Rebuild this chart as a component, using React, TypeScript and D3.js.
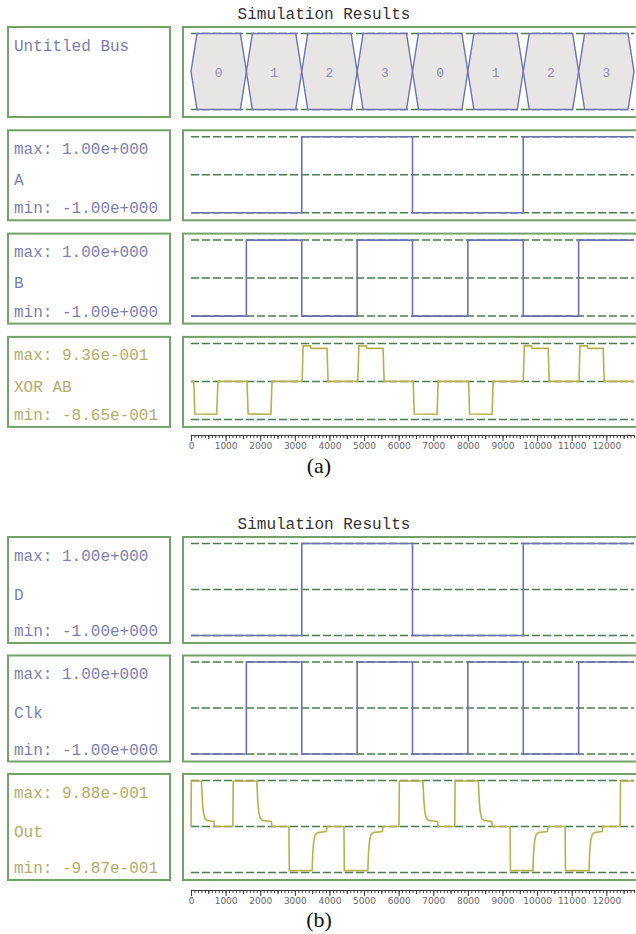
import * as d3 from "d3";
import { useEffect, useRef } from "react";

const WIDTH = 636;
const HEIGHT = 934;
const T_END = 12800;

// bus segments
const busEdges = [0, 1600, 3200, 4800, 6400, 8000, 9600, 11200, 12800];
const busValues = ["0", "1", "2", "3", "0", "1", "2", "3"];

// [time, level] - level holds until the next entry
const aSteps: [number, number][] = [[0, -1], [3200, 1], [6400, -1], [9600, 1]];
const bSteps: [number, number][] = [
  [0, -1], [1600, 1], [3200, -1], [4800, 1], [6400, -1], [8000, 1], [9600, -1], [11200, 1],
];
const dSteps: [number, number][] = [[0, -1], [3200, 1], [6400, -1], [9600, 1]];
const clkSteps: [number, number][] = [
  [0, -1], [1600, 1], [3200, -1], [4800, 1], [6400, -1], [8000, 1], [9600, -1], [11200, 1],
];

// analog traces, [time, value]
const xorPoints: [number, number][] = [
  [0, 0], [80, 0], [110, -0.86], [740, -0.865], [780, 0],
  [1620, 0], [1650, -0.86], [2310, -0.865], [2340, 0],
  [3210, 0], [3240, 0.936], [3450, 0.936], [3470, 0.87], [3930, 0.87], [3960, 0],
  [4820, 0], [4850, 0.936], [5060, 0.936], [5080, 0.87], [5550, 0.87], [5580, 0],
  [6420, 0], [6450, -0.86], [7110, -0.865], [7140, 0],
  [8020, 0], [8050, -0.86], [8700, -0.865], [8730, 0],
  [9600, 0], [9630, 0.936], [9840, 0.936], [9860, 0.87], [10320, 0.87], [10350, 0],
  [11210, 0], [11240, 0.936], [11450, 0.936], [11470, 0.87], [11910, 0.87], [11940, 0],
  [12800, 0],
];

const outPoints: [number, number][] = [
  [0, 0], [10, 0.99], [300, 0.99], [330, 0.55], [360, 0.3], [400, 0.18], [470, 0.13], [660, 0.11], [680, 0],
  [1210, 0], [1220, 0.99], [1900, 0.99], [1930, 0.55], [1960, 0.3], [2000, 0.18], [2070, 0.13], [2320, 0.11], [2340, 0],
  [2830, 0], [2840, -0.96], [3500, -0.96], [3520, -0.55], [3550, -0.3], [3590, -0.18], [3660, -0.13], [3910, -0.11], [3930, 0],
  [4420, 0], [4430, -0.96], [5110, -0.96], [5130, -0.55], [5160, -0.3], [5200, -0.18], [5270, -0.13], [5530, -0.11], [5550, 0],
  [6010, 0], [6020, 0.99], [6700, 0.99], [6730, 0.55], [6760, 0.3], [6800, 0.18], [6870, 0.13], [7120, 0.11], [7140, 0],
  [7620, 0], [7630, 0.99], [8300, 0.99], [8330, 0.55], [8360, 0.3], [8400, 0.18], [8470, 0.13], [8690, 0.11], [8710, 0],
  [9220, 0], [9230, -0.96], [9880, -0.96], [9900, -0.55], [9930, -0.3], [9970, -0.18], [10040, -0.13], [10300, -0.11], [10320, 0],
  [10810, 0], [10820, -0.96], [11500, -0.96], [11520, -0.55], [11550, -0.3], [11590, -0.18], [11660, -0.13], [11880, -0.11], [11900, 0],
  [12400, 0], [12410, 0.99], [12800, 0.99],
];

const timeTicks = [0, 1000, 2000, 3000, 4000, 5000, 6000, 7000, 8000, 9000, 10000, 11000, 12000];

const BORDER = "#72a268";
const DASH = "#4a7d4c";
const BLUE = "#6c71b4";
const BLUE_TEXT = "#7c7fae";
const OLIVE = "#b8b04c";
const OLIVE_TEXT = "#b3ac68";
const HEX_FILL = "#e8e5e5";
const MONO = "'Liberation Mono', 'DejaVu Sans Mono', monospace";

const x = d3.scaleLinear().domain([0, T_END]).range([191, 634]);

const panelA = {
  titleY: 19,
  rowStart: 27,
  pitch: 103.3,
  rowH: 90,
  axisY: 435,
  caption: "(a)",
  captionY: 473,
  rows: [
    { kind: "bus", name: "Untitled Bus" },
    { kind: "step", name: "A", max: "1.00e+000", min: "-1.00e+000", data: aSteps },
    { kind: "step", name: "B", max: "1.00e+000", min: "-1.00e+000", data: bSteps },
    { kind: "analog", name: "XOR AB", max: "9.36e-001", min: "-8.65e-001", data: xorPoints },
  ],
};

const panelB = {
  titleY: 529,
  rowStart: 537,
  pitch: 118.5,
  rowH: 106,
  axisY: 890,
  caption: "(b)",
  captionY: 927,
  rows: [
    { kind: "step", name: "D", max: "1.00e+000", min: "-1.00e+000", data: dSteps },
    { kind: "step", name: "Clk", max: "1.00e+000", min: "-1.00e+000", data: clkSteps },
    { kind: "analog", name: "Out", max: "9.88e-001", min: "-9.87e-001", data: outPoints },
  ],
};

const TimeAxis = ({ y }: { y: number }) => {
  const ref = useRef<SVGGElement>(null);

  useEffect(() => {
    const g = d3.select(ref.current);
    g.selectAll("*").remove();

    const minor = d3
      .axisBottom(x)
      .tickValues(d3.range(0, T_END + 1, 100))
      .tickSize(3)
      .tickSizeOuter(0)
      .tickFormat(() => "");
    const half = d3
      .axisBottom(x)
      .tickValues(d3.range(500, T_END, 1000))
      .tickSize(4)
      .tickFormat(() => "");
    const major = d3
      .axisBottom(x)
      .tickValues(timeTicks)
      .tickSize(6)
      .tickPadding(2)
      .tickFormat(d3.format("d"));

    g.append("g").call(minor);
    g.append("g").call(half).call((s) => s.select(".domain").remove());
    g.append("g").call(major).call((s) => s.select(".domain").remove());

    g.selectAll("line, path").attr("stroke", "#3a3a3a");
    g.selectAll("text")
      .attr("fill", "#666")
      .style("font-family", "'DejaVu Sans', sans-serif")
      .style("font-size", "9px");
  }, [y]);

  return <g ref={ref} transform={`translate(0,${y})`} />;
};

const Row = ({ row, top, h }: any) => {
  const yTop = top + 6.5;
  const yBot = top + h - 7.5;
  const yMid = (yTop + yBot) / 2;
  const y = d3.scaleLinear().domain([-1, 1]).range([yBot, yTop]);
  const [x0, x1] = x.range();
  const isAnalog = row.kind === "analog";
  const textColor = isAnalog ? OLIVE_TEXT : BLUE_TEXT;

  let trace: any = null;
  if (row.kind === "step") {
    const pts = [...row.data, [T_END, row.data[row.data.length - 1][1]]];
    const line = d3
      .line<[number, number]>()
      .x((d) => x(d[0]))
      .y((d) => y(d[1]))
      .curve(d3.curveStepAfter);
    trace = <path d={line(pts) || ""} fill="none" stroke={BLUE} strokeWidth={1.6} />;
  } else if (isAnalog) {
    const line = d3
      .line<[number, number]>()
      .x((d) => x(d[0]))
      .y((d) => y(d[1]));
    trace = <path d={line(row.data) || ""} fill="none" stroke={OLIVE} strokeWidth={1.6} />;
  }

  const dashYs = row.kind === "bus" ? [yTop, yBot] : [yTop, yMid, yBot];
  const slant = 6;

  return (
    <g>
      <rect x={8} y={top} width={162} height={h} fill="#fff" stroke={BORDER} strokeWidth={2} />
      <rect x={183} y={top} width={480} height={h} fill="#fff" stroke={BORDER} strokeWidth={2} />

      {row.kind === "bus" ? (
        <text x={14} y={top + 23.5} fontFamily={MONO} fontSize={16} fill={BLUE_TEXT}>
          {row.name}
        </text>
      ) : (
        <g fontFamily={MONO} fontSize={16} fill={textColor}>
          <text x={14} y={top + 23.5}>{`max: ${row.max}`}</text>
          <text x={14} y={(top + 23.5 + top + h - 7) / 2 + 1.5}>{row.name}</text>
          <text x={14} y={top + h - 7}>{`min: ${row.min}`}</text>
        </g>
      )}

      {dashYs.map((dy: number, i: number) => (
        <line
          key={i}
          x1={x0}
          x2={x1}
          y1={dy}
          y2={dy}
          stroke={DASH}
          strokeWidth={1.5}
          strokeDasharray="8,3"
        />
      ))}

      {row.kind === "bus" &&
        busValues.map((v, i) => {
          const a = x(busEdges[i]);
          const b = x(busEdges[i + 1]);
          const pts = [
            [a, yMid],
            [a + slant, yTop],
            [b - slant, yTop],
            [b, yMid],
            [b - slant, yBot],
            [a + slant, yBot],
          ];
          return (
            <g key={i}>
              <polygon
                points={pts.map((p) => p.join(",")).join(" ")}
                fill={HEX_FILL}
                stroke={BLUE}
                strokeWidth={1.4}
              />
              <text
                x={(a + b) / 2}
                y={yMid + 5}
                textAnchor="middle"
                fontFamily={MONO}
                fontSize={13}
                fill="#8b8db0"
              >
                {v}
              </text>
            </g>
          );
        })}

      {trace}
    </g>
  );
};

const Panel = ({ p }: any) => (
  <g>
    <text
      x={324}
      y={p.titleY}
      textAnchor="middle"
      fontFamily={MONO}
      fontSize={16}
      fill="#333"
    >
      Simulation Results
    </text>
    {p.rows.map((row: any, i: number) => (
      <Row key={i} row={row} top={p.rowStart + i * p.pitch} h={p.rowH} />
    ))}
    <TimeAxis y={p.axisY} />
    <text
      x={319}
      y={p.captionY}
      textAnchor="middle"
      fontFamily="'Liberation Serif', 'Times New Roman', serif"
      fontSize={22}
      fill="#111"
    >
      {p.caption}
    </text>
  </g>
);

const App = () => {
  return (
    <svg
      width={WIDTH}
      height={HEIGHT}
      style={{ position: "absolute", left: 0, top: 0, background: "#fff" }}
    >
      <Panel p={panelA} />
      <Panel p={panelB} />
    </svg>
  );
};

export default App;
